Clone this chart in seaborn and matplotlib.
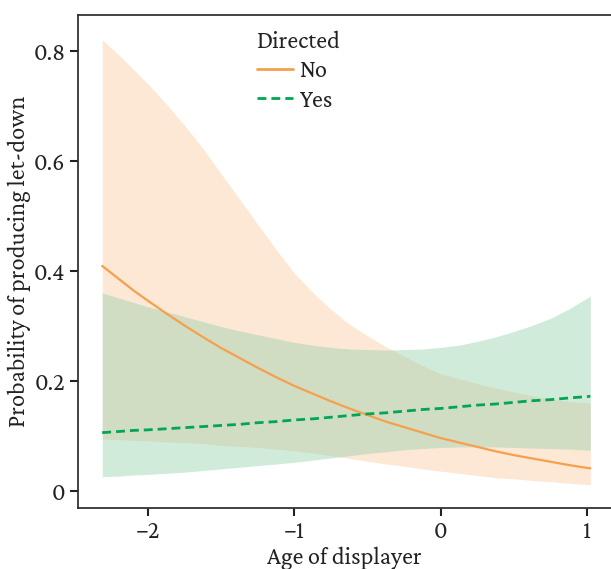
import numpy as np
import pandas as pd
import matplotlib
matplotlib.use("Agg")
import matplotlib.pyplot as plt
import seaborn as sns

age = [-2.31, -2.2, -2.1, -2.0, -1.875, -1.75, -1.625, -1.5, -1.375, -1.25, -1.125, -1.0,
       -0.875, -0.75, -0.625, -0.5, -0.375, -0.25, -0.125, 0.0, 0.125, 0.25, 0.375, 0.5,
       0.625, 0.75, 0.875, 1.02]

no_mean = [0.410, 0.387, 0.366, 0.347, 0.324, 0.302, 0.281, 0.261, 0.243, 0.225, 0.208, 0.192,
           0.178, 0.164, 0.151, 0.139, 0.127, 0.117, 0.107, 0.097, 0.089, 0.081, 0.073, 0.066,
           0.060, 0.054, 0.048, 0.042]
no_upper = [0.821, 0.794, 0.768, 0.741, 0.705, 0.666, 0.624, 0.578, 0.532, 0.486, 0.440, 0.397,
            0.362, 0.331, 0.304, 0.283, 0.263, 0.246, 0.229, 0.214, 0.205, 0.196, 0.188, 0.181,
            0.174, 0.168, 0.164, 0.161]
no_lower = [0.095, 0.094, 0.093, 0.092, 0.090, 0.089, 0.087, 0.084, 0.082, 0.080, 0.077, 0.074,
            0.070, 0.065, 0.060, 0.055, 0.050, 0.046, 0.041, 0.037, 0.033, 0.029, 0.025, 0.023,
            0.020, 0.018, 0.015, 0.012]

yes_mean = [0.107, 0.109, 0.111, 0.112, 0.114, 0.116, 0.118, 0.120, 0.122, 0.125, 0.127, 0.130,
            0.132, 0.135, 0.138, 0.141, 0.143, 0.146, 0.149, 0.151, 0.154, 0.157, 0.159, 0.162,
            0.165, 0.167, 0.170, 0.173]
yes_upper = [0.361, 0.352, 0.344, 0.336, 0.327, 0.318, 0.309, 0.300, 0.292, 0.285, 0.278, 0.271,
             0.266, 0.262, 0.259, 0.258, 0.257, 0.258, 0.259, 0.262, 0.266, 0.273, 0.281, 0.291,
             0.302, 0.315, 0.332, 0.355]
yes_lower = [0.027, 0.028, 0.030, 0.031, 0.033, 0.035, 0.038, 0.041, 0.044, 0.047, 0.050, 0.053,
             0.057, 0.061, 0.065, 0.069, 0.072, 0.076, 0.078, 0.080, 0.081, 0.081, 0.081, 0.080,
             0.079, 0.078, 0.077, 0.075]

groups = ["No", "Yes"]
x_ticks = [-2, -1, 0, 1]
x_tick_labels = ["\u22122", "\u22121", "0", "1"]
y_ticks = [0, 0.2, 0.4, 0.6, 0.8]
y_tick_labels = ["0", "0.2", "0.4", "0.6", "0.8"]

df = pd.DataFrame({
    "Age": age * 2,
    "Prob": no_mean + yes_mean,
    "Directed": ["No"] * len(age) + ["Yes"] * len(age),
})

sns.set_style("white")
plt.rcParams["font.family"] = ["Crimson Pro", "Crimson Text", "Liberation Serif", "DejaVu Serif"]

FS = 17.5
line_colors = {"No": "#F6A04D", "Yes": "#00A651"}
fill_colors = {"No": "#F8A35A", "Yes": "#98D2AE"}
fill_alpha = {"No": 0.25, "Yes": 0.44}

fig = plt.figure(figsize=(6.11, 5.69), dpi=100)
ax = fig.add_axes([0.1277, 0.1072, 0.8723, 0.8664])

ax.fill_between(age, no_lower, no_upper, color=fill_colors["No"], alpha=fill_alpha["No"], lw=0)
ax.fill_between(age, yes_lower, yes_upper, color=fill_colors["Yes"], alpha=fill_alpha["Yes"], lw=0)

sns.lineplot(data=df, x="Age", y="Prob", hue="Directed", style="Directed",
             palette=line_colors, dashes={"No": "", "Yes": (3.2, 1.8)},
             hue_order=groups, style_order=groups, ax=ax, estimator=None, sort=True)
for l in ax.lines:
    l.set_linewidth(1.6)
ax.lines[1].set_linewidth(2.0)

ax.set_xlim(-2.475, 1.161)
ax.set_ylim(-0.030, 0.866)
ax.set_xticks(x_ticks)
ax.set_xticklabels(x_tick_labels)
ax.set_yticks(y_ticks)
ax.set_yticklabels(y_tick_labels)

ax.spines["right"].set_visible(False)
for s in ["left", "top", "bottom"]:
    ax.spines[s].set_color("#333333")
    ax.spines[s].set_linewidth(1.3)

ax.tick_params(axis="both", direction="out", length=6, width=1.5, color="#222222",
               labelsize=FS, labelcolor="#222222", pad=3, left=True, bottom=True)

ax.set_xlabel("Age of displayer", fontsize=FS, color="#222222", labelpad=2)
ax.set_ylabel("Probability of producing let-down", fontsize=FS, color="#222222", labelpad=2)

handles, labels = ax.get_legend_handles_labels()
for h in handles:
    h.set_linewidth(2.0)
leg = ax.legend(handles, labels, title="Directed", loc="upper left",
                bbox_to_anchor=(0.335, 0.969), frameon=False, fontsize=FS,
                title_fontsize=FS, handlelength=1.5, handletextpad=0.3,
                labelspacing=0.25, borderaxespad=0, borderpad=0)
leg._legend_box.align = "left"
for t in leg.get_texts():
    t.set_color("#222222")
leg.get_title().set_color("#222222")

fig.savefig("out.png", dpi=100)
